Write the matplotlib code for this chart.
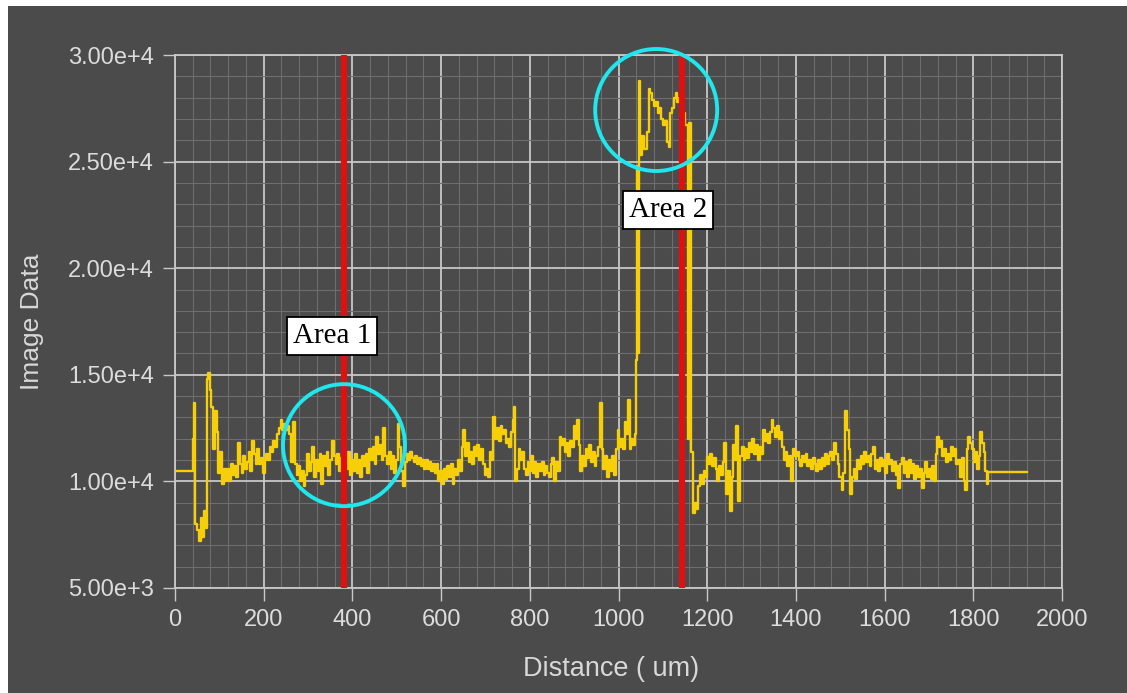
import matplotlib
matplotlib.use("Agg")
import matplotlib.pyplot as plt
from matplotlib.patches import Ellipse, Rectangle
from matplotlib.ticker import MultipleLocator

# ---------------- data ----------------
distance = [
    0, 38, 40, 42, 44, 46, 50, 54, 58, 62, 66, 70, 72, 75, 78, 82, 86, 90, 94, 98,
    102, 106, 110, 114, 118, 122, 126, 130, 134, 138, 142, 146, 150, 154, 158, 162, 166, 170, 174, 178,
    182, 186, 190, 194, 198, 202, 206, 210, 214, 218, 222, 226, 230, 234, 238, 242, 246, 250, 254, 258,
    262, 266, 270, 274, 278, 282, 286, 290, 294, 298, 302, 306, 310, 314, 318, 322, 326, 330, 334, 338,
    342, 346, 350, 354, 358, 362, 366, 370, 374, 378, 382, 386, 390, 394, 398, 402, 406, 410, 414, 418,
    422, 426, 430, 434, 438, 442, 446, 450, 454, 458, 462, 466, 470, 474, 478, 482, 486, 490, 494, 498,
    502, 506, 510, 514, 518, 522, 526, 530, 534, 538, 542, 546, 550, 554, 558, 562, 566, 570, 574, 578,
    582, 586, 590, 594, 598, 602, 606, 610, 614, 618, 622, 626, 630, 634, 638, 642, 646, 650, 654, 658,
    662, 666, 670, 674, 678, 682, 686, 690, 694, 698, 702, 706, 710, 714, 718, 722, 726, 730, 734, 738,
    742, 746, 750, 754, 758, 762, 764, 767, 771, 775, 779, 783, 787, 791, 795, 799, 803, 807, 811, 815,
    819, 823, 827, 831, 835, 839, 843, 847, 851, 855, 859, 863, 867, 871, 875, 879, 883, 887, 891, 895,
    899, 903, 906, 910, 914, 918, 922, 926, 930, 934, 938, 942, 946, 950, 954, 958, 962, 966, 970, 974,
    978, 982, 986, 990, 994, 998, 1002, 1006, 1010, 1014, 1018, 1021, 1025, 1029, 1033, 1037, 1040, 1042, 1044, 1046,
    1049, 1053, 1058, 1064, 1068, 1072, 1076, 1080, 1084, 1088, 1092, 1096, 1100, 1105, 1109, 1113, 1117, 1121, 1125, 1129,
    1133, 1137, 1141, 1145, 1150, 1156, 1158, 1164, 1167, 1172, 1176, 1180, 1184, 1188, 1192, 1196, 1199, 1203, 1207, 1211,
    1215, 1219, 1223, 1227, 1231, 1235, 1239, 1243, 1247, 1251, 1255, 1259, 1263, 1266, 1270, 1274, 1278, 1282, 1286, 1290,
    1294, 1298, 1302, 1306, 1310, 1314, 1318, 1322, 1326, 1330, 1334, 1338, 1342, 1345, 1349, 1353, 1357, 1361, 1365, 1369,
    1373, 1377, 1381, 1385, 1390, 1394, 1398, 1402, 1406, 1410, 1414, 1418, 1422, 1426, 1430, 1434, 1438, 1442, 1446, 1450,
    1454, 1458, 1462, 1466, 1470, 1474, 1478, 1482, 1486, 1490, 1494, 1498, 1503, 1507, 1511, 1515, 1519, 1522, 1526, 1530,
    1534, 1538, 1542, 1546, 1550, 1554, 1558, 1562, 1566, 1570, 1574, 1578, 1582, 1586, 1590, 1594, 1598, 1602, 1605, 1609,
    1613, 1617, 1621, 1625, 1629, 1631, 1635, 1639, 1643, 1647, 1651, 1655, 1659, 1663, 1667, 1671, 1675, 1679, 1684, 1688,
    1692, 1696, 1700, 1704, 1708, 1711, 1715, 1718, 1722, 1726, 1730, 1734, 1738, 1742, 1746, 1750, 1754, 1758, 1762, 1766,
    1770, 1774, 1778, 1781, 1785, 1789, 1793, 1797, 1801, 1805, 1809, 1812, 1815, 1819, 1823, 1827, 1830, 1834, 1921,
]
image_data = [
    10500, 10500, 12000, 13700, 11900, 8000, 7700, 7200, 8300, 7400, 8600, 7800, 14800, 15100, 14300, 13500, 11500, 13300, 12300, 10400,
    11400, 9900, 10600, 10000, 10600, 10000, 10800, 10300, 10700, 10200, 11800, 10800, 10400, 11200, 10600, 10900, 11400, 10500, 11900, 11300,
    10800, 11500, 10800, 11100, 10400, 11000, 11300, 11000, 11600, 11400, 11900, 11600, 12200, 12500, 12900, 12400, 12700, 12400, 12600, 12200,
    10900, 12800, 10800, 10300, 10700, 10000, 10500, 9800, 10300, 11300, 10500, 10900, 11600, 10200, 11000, 10500, 11300, 9900, 11200, 10700,
    11400, 10300, 11000, 11900, 11200, 10800, 11300, 10500, 11100, 10200, 11200, 10600, 11400, 10300, 11000, 10500, 11300, 10400, 11000, 10200,
    11200, 10700, 11300, 10400, 11500, 11000, 11600, 10800, 12100, 11300, 11700, 11000, 12500, 11200, 10800, 11400, 10600, 11200, 10400, 11000,
    12700, 11600, 10500, 9800, 10900, 11300, 11000, 11400, 11100, 10900, 11200, 10800, 11100, 10700, 11000, 10600, 11000, 10600, 10900, 10500,
    10800, 10400, 10800, 10000, 10500, 9900, 10600, 10100, 10700, 10200, 10800, 9900, 10600, 10300, 11000, 10500, 11600, 12400, 11200, 11800,
    10900, 11400, 10800, 11600, 11200, 11700, 11000, 11500, 10800, 10300, 10600, 10200, 11400, 11000, 13000, 12000, 12500, 11900, 12600, 12200,
    12400, 11800, 12000, 11600, 12300, 12900, 13500, 10000, 10600, 11500, 11000, 11400, 10600, 10300, 10900, 10500, 11200, 10400, 10900, 10200,
    10800, 10500, 10900, 10300, 10700, 10400, 10200, 10800, 11100, 10000, 10900, 10500, 12100, 11700, 12000, 11400, 11800, 11200, 11900, 11600,
    12600, 12000, 12900, 11700, 10500, 11200, 10700, 11500, 11100, 11700, 10900, 11400, 10700, 11200, 11600, 13700, 11500, 10600, 11200, 10200,
    11000, 10500, 11200, 10300, 11500, 12400, 11600, 12000, 11500, 12800, 12200, 13800, 11500, 12000, 11700, 12200, 15700, 24800, 16000, 28800,
    25300, 26200, 25600, 26400, 28400, 28200, 27900, 27600, 27800, 27300, 27500, 27000, 26700, 26900, 25900, 25700, 27300, 27500, 28000, 28200,
    27800, 28000, 26900, 27300, 26700, 12000, 26800, 11400, 8500, 9000, 8700, 9800, 10300, 9900, 10500, 10200, 11150, 10800, 11300, 10700,
    11100, 10600, 10000, 10700, 10300, 10900, 11800, 9400, 10500, 8600, 10200, 11700, 11000, 12600, 9100, 11200, 11600, 11000, 11500, 11100,
    11800, 11400, 12000, 11300, 11700, 11000, 11600, 11300, 12400, 11900, 12200, 11800, 12300, 12900, 12500, 12100, 12600, 12000, 12300, 11600,
    11000, 11400, 10700, 11200, 10000, 11500, 11200, 11400, 11000, 10700, 11200, 10900, 11300, 10700, 11000, 10600, 11100, 10800, 10500, 11000,
    10600, 11100, 10700, 11300, 10800, 11200, 11400, 11000, 11800, 11300, 10800, 10200, 9600, 10400, 13300, 12400, 11500, 9400, 10200, 10600,
    10100, 11000, 10600, 11200, 10800, 11400, 10900, 11200, 10700, 11300, 11600, 10600, 11000, 10500, 11100, 10700, 11000, 10400, 11300, 10800,
    11000, 10500, 10900, 10300, 10700, 9700, 10800, 11100, 10400, 10900, 10200, 11000, 10400, 10800, 10100, 10700, 10200, 10600, 9700, 10400,
    10900, 10200, 10600, 10100, 10700, 10000, 11300, 12100, 11600, 11900, 11200, 11500, 10900, 11300, 11000, 11600, 11200, 11500, 10800, 11000,
    10200, 11100, 10000, 9600, 11500, 12100, 11800, 11500, 10900, 11400, 10600, 11200, 12300, 11800, 11400, 10500, 9900, 10450, 10450,
]

marker_positions = [380, 1144]          # red cursor lines (um)
area_labels = ["Area 1", "Area 2"]
area_label_pos = [(354, 16820), (1112, 22730)]
area_circle_centers = [(381, 11700), (1085, 27420)]

x_ticks = [0, 200, 400, 600, 800, 1000, 1200, 1400, 1600, 1800, 2000]
y_ticks = [5000, 10000, 15000, 20000, 25000, 30000]
y_tick_labels = ["5.00e+3", "1.00e+4", "1.50e+4", "2.00e+4", "2.50e+4", "3.00e+4"]

# ---------------- figure ----------------
W, H = 1127, 693
bg = "#4b4b4b"
fig = plt.figure(figsize=(W / 100, H / 100), dpi=100, facecolor=bg)
# thin white margins at the top and left of the screenshot
fig.patches.append(Rectangle((0, 1 - 6 / H), 1, 6 / H, transform=fig.transFigure,
                             facecolor="white", edgecolor="none", zorder=-5))
fig.patches.append(Rectangle((0, 0), 8 / W, 1, transform=fig.transFigure,
                             facecolor="white", edgecolor="none", zorder=-5))

ax = fig.add_axes([175 / W, 1 - 588 / H, (1062 - 175) / W, (588 - 55) / H])
ax.set_facecolor(bg)

ax.set_xlim(0, 2000)
ax.set_ylim(5000, 30000)
ax.set_xticks(x_ticks)
ax.set_xticklabels([str(v) for v in x_ticks])
ax.set_yticks(y_ticks)
ax.set_yticklabels(y_tick_labels)
ax.xaxis.set_minor_locator(MultipleLocator(40))
ax.yaxis.set_minor_locator(MultipleLocator(1000))

ax.grid(which="minor", color="#6e6e6e", linewidth=0.8, zorder=0)
ax.grid(which="major", color="#c8c8c8", linewidth=1.3, zorder=0)
ax.set_axisbelow(True)

for s in ax.spines.values():
    s.set_color("#c8c8c8")
    s.set_linewidth(1.3)

ax.tick_params(which="major", length=9, width=1.0, color="#c8c8c8", labelcolor="#dcdcdc",
               labelsize=17, pad=6)
ax.tick_params(which="minor", length=0)
for lab in ax.get_xticklabels() + ax.get_yticklabels():
    lab.set_fontfamily("Liberation Sans")

# data line
ax.plot(distance, image_data, color="#f7cf06", linewidth=1.7, drawstyle="steps-post", zorder=3)

# cursor lines
for xm in marker_positions:
    ax.axvline(xm, color="#e01010", linewidth=4.5, zorder=4)

# circles (radius ~61 px)
px_per_x = (1062 - 175) / 2000
px_per_y = (588 - 55) / 25000
r = 61
for (cx, cy) in area_circle_centers:
    ax.add_patch(Ellipse((cx, cy), 2 * r / px_per_x, 2 * r / px_per_y, fill=False,
                         edgecolor="#1ee8ee", linewidth=2.8, zorder=6, clip_on=False))

for lab, (tx, ty) in zip(area_labels, area_label_pos):
    ax.text(tx, ty, lab, family="Liberation Serif", fontsize=21, color="black",
            ha="center", va="center", zorder=7,
            bbox=dict(boxstyle="square,pad=0.2", facecolor="white", edgecolor="black", linewidth=1.3))

ax.set_xlabel("Distance ( um)", fontsize=19.5, color="#d8d8d8", family="Liberation Sans")
ax.set_ylabel("Image Data", fontsize=19, color="#d8d8d8", family="Liberation Sans")
ax.xaxis.set_label_coords((611 - 175) / (1062 - 175), -(656 - 588) / (588 - 55))
ax.yaxis.set_label_coords(-(175 - 44) / (1062 - 175), (588 - 322) / (588 - 55))

fig.savefig("out.png", dpi=100, facecolor=bg)
